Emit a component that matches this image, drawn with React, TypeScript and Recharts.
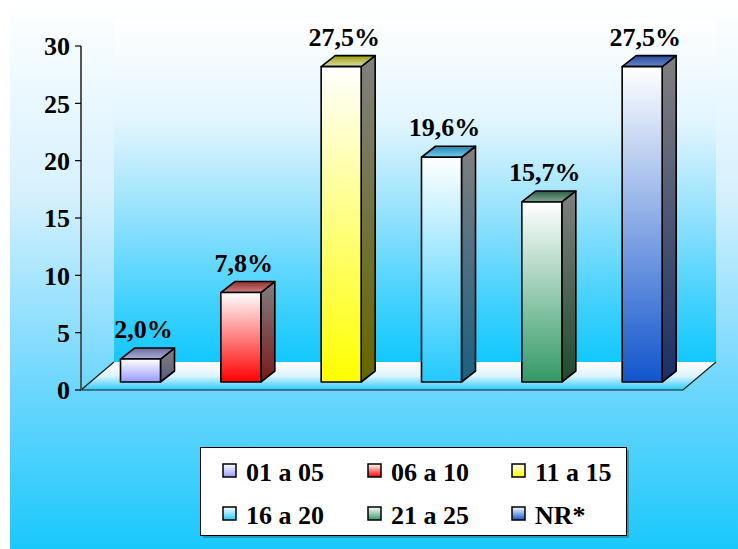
import React from 'react';
import { BarChart, Bar, YAxis, XAxis, LabelList, Legend } from 'recharts';

const categories = ['01 a 05', '06 a 10', '11 a 15', '16 a 20', '21 a 25', 'NR*'];
const values = [2.0, 7.8, 27.5, 19.6, 15.7, 27.5];
const yTicks = [0, 5, 10, 15, 20, 25, 30];

const data = categories.map((name, i) => ({ name, value: values[i] }));

const palette = [
  { front: '#9999ff', side: '#5a5a80', top: '#6a6a99', topLight: '#b0b0dd' },
  { front: '#ff0000', side: '#7a1818', top: '#8f3030', topLight: '#d08080' },
  { front: '#ffff00', side: '#666600', top: '#9a9a10', topLight: '#e0e0a0' },
  { front: '#22c8ff', side: '#1a5f80', top: '#2a7faa', topLight: '#70d0f5' },
  { front: '#339966', side: '#1f4a30', top: '#2f5a45', topLight: '#80aa90' },
  { front: '#1155cc', side: '#1a2e66', top: '#2a4a99', topLight: '#6688cc' },
];

const W = 738;
const H = 549;
const PLOT_LEFT = 81;
const PLOT_RIGHT = 683;
const PLOT_TOP = 46;
const PLOT_BOTTOM = 390;
const FLOOR_DX = 33;
const FLOOR_DY = 28;
const SHIFT_X = 9.5;
const SHIFT_Y = 8;
const BAR_DX = 14;
const BAR_DY = 11;
const FONT = '"Liberation Serif", "Times New Roman", serif';

function Bar3D(props: any) {
  const { x, y, width, height, payload } = props;
  const i = categories.indexOf(payload.name);
  const fx = x + SHIFT_X;
  const fy = y - SHIFT_Y;
  const w = width;
  const h = height;
  const side = `${fx + w},${fy} ${fx + w + BAR_DX},${fy - BAR_DY} ${fx + w + BAR_DX},${fy + h - BAR_DY} ${fx + w},${fy + h}`;
  const top = `${fx},${fy} ${fx + BAR_DX},${fy - BAR_DY} ${fx + w + BAR_DX},${fy - BAR_DY} ${fx + w},${fy}`;
  return (
    <g stroke="#000" strokeWidth={1.6} strokeLinejoin="round">
      <polygon points={side} fill={`url(#side${i})`} />
      <polygon points={top} fill={`url(#top${i})`} />
      <rect x={fx} y={fy} width={w} height={h} fill={`url(#front${i})`} />
    </g>
  );
}

function ValueLabel(props: any) {
  const { x, y, width, value } = props;
  const txt = Number(value).toFixed(1).replace('.', ',') + '%';
  return (
    <text
      x={x + width / 2 + SHIFT_X + 3}
      y={y - SHIFT_Y - 21}
      textAnchor="middle"
      fontFamily={FONT}
      fontWeight="bold"
      fontSize={26}
      fill="#000"
    >
      {txt}
    </text>
  );
}

function LegendBox() {
  const colX = [23, 168, 312];
  const rowY = [34, 77];
  return (
    <svg width={430} height={92} style={{ display: 'block' }}>
      <rect x={3} y={3} width={426} height={88} fill="#2a6f88" opacity={0.55} />
      <rect x={0.5} y={0.5} width={426} height={88} fill="#fff" stroke="#000" strokeWidth={1} />
      {categories.map((c, i) => {
        const cx = colX[i % 3];
        const ry = rowY[Math.floor(i / 3)];
        return (
          <g key={c}>
            <rect x={cx} y={ry - 17} width={13} height={13} fill={`url(#leg${i})`} stroke="#000" strokeWidth={1.5} />
            <text x={cx + 23} y={ry} fontFamily={FONT} fontWeight="bold" fontSize={26} fill="#000">
              {c}
            </text>
          </g>
        );
      })}
    </svg>
  );
}

export default function App() {
  return (
    <div style={{ position: 'fixed', left: 0, top: 0, width: W, height: H, background: '#fff' }}>
      <svg width={W} height={H} style={{ position: 'absolute', left: 0, top: 0 }}>
        <defs>
          <linearGradient id="outerBg" x1="0" y1="0" x2="0" y2="1">
            <stop offset="0" stopColor="#ffffff" />
            <stop offset="0.35" stopColor="#d6f1fd" />
            <stop offset="0.7" stopColor="#6fd7fd" />
            <stop offset="1" stopColor="#1ac8fb" />
          </linearGradient>
          <linearGradient id="wallBg" x1="0" y1="0" x2="0" y2="1">
            <stop offset="0" stopColor="#ffffff" />
            <stop offset="0.3" stopColor="#e2f5fe" />
            <stop offset="0.6" stopColor="#8adffd" />
            <stop offset="0.85" stopColor="#3acffd" />
            <stop offset="1" stopColor="#12c8fd" />
          </linearGradient>
          <linearGradient id="floorBg" x1="0" y1="0" x2="0" y2="1">
            <stop offset="0" stopColor="#ffffff" />
            <stop offset="0.5" stopColor="#ddf4fe" />
            <stop offset="1" stopColor="#2ccbfc" />
          </linearGradient>
          {palette.map((p, i) => (
            <React.Fragment key={i}>
              <linearGradient id={`front${i}`} x1="0" y1="0" x2="0" y2="1">
                <stop offset="0" stopColor="#ffffff" />
                <stop offset="1" stopColor={p.front} />
              </linearGradient>
              <linearGradient id={`side${i}`} x1="0" y1="0" x2="0" y2="1">
                <stop offset="0" stopColor="#808080" />
                <stop offset="1" stopColor={p.side} />
              </linearGradient>
              <linearGradient id={`top${i}`} x1="0" y1="0" x2="0" y2="1">
                <stop offset="0" stopColor={p.top} />
                <stop offset="1" stopColor={p.topLight} />
              </linearGradient>
              <linearGradient id={`leg${i}`} x1="0" y1="0" x2="0" y2="1">
                <stop offset="0" stopColor="#ffffff" />
                <stop offset="1" stopColor={p.front} />
              </linearGradient>
            </React.Fragment>
          ))}
        </defs>
        <rect x={10} y={0} width={W - 10} height={H} fill="url(#outerBg)" />
        <rect
          x={PLOT_LEFT + FLOOR_DX}
          y={20}
          width={PLOT_RIGHT - PLOT_LEFT}
          height={PLOT_BOTTOM - FLOOR_DY - 20}
          fill="url(#wallBg)"
        />
        <polygon
          points={`${PLOT_LEFT},${PLOT_BOTTOM} ${PLOT_LEFT + FLOOR_DX},${PLOT_BOTTOM - FLOOR_DY} ${PLOT_RIGHT + FLOOR_DX},${PLOT_BOTTOM - FLOOR_DY} ${PLOT_RIGHT},${PLOT_BOTTOM}`}
          fill="url(#floorBg)"
        />
        <polyline
          points={`${PLOT_LEFT + FLOOR_DX},${PLOT_BOTTOM - FLOOR_DY} ${PLOT_LEFT},${PLOT_BOTTOM} ${PLOT_RIGHT},${PLOT_BOTTOM} ${PLOT_RIGHT + FLOOR_DX},${PLOT_BOTTOM - FLOOR_DY}`}
          fill="none"
          stroke="#1a1a1a"
          strokeWidth={1.2}
        />
      </svg>
      <div style={{ position: 'absolute', left: 0, top: 0 }}>
        <BarChart
          width={W}
          height={H}
          data={data}
          margin={{ top: PLOT_TOP, right: W - PLOT_RIGHT, bottom: H - PLOT_BOTTOM, left: 0 }}
          barCategoryGap={0}
        >
          <XAxis dataKey="name" hide height={0} />
          <YAxis
            width={PLOT_LEFT}
            domain={[0, 30]}
            ticks={yTicks}
            interval={0}
            axisLine={{ stroke: '#555', strokeWidth: 2 }}
            tickLine={{ stroke: '#000', strokeWidth: 1.2 }}
            tickSize={6}
            tickMargin={5}
            tick={{ fill: '#000', fontFamily: FONT, fontWeight: 'bold', fontSize: 26 }}
          />
          <Bar dataKey="value" barSize={40} shape={<Bar3D />} isAnimationActive={false}>
            <LabelList dataKey="value" content={<ValueLabel />} />
          </Bar>
          <Legend
            layout="vertical"
            align="center"
            verticalAlign="middle"
            wrapperStyle={{ left: 200, top: 447, width: 430, height: 92 }}
            content={() => <LegendBox />}
          />
        </BarChart>
      </div>
    </div>
  );
}
